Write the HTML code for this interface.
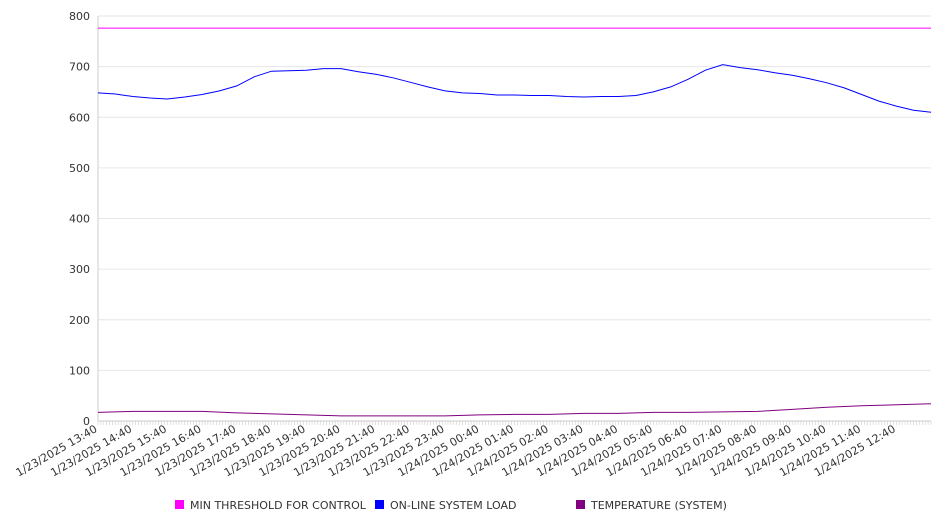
<!DOCTYPE html>
<html><head><meta charset="utf-8"><style>
html,body{margin:0;padding:0;background:#fff;width:946px;height:526px;overflow:hidden;font-family:"DejaVu Sans","Liberation Sans",sans-serif}
</style></head><body>
<svg id="chart" width="946" height="526" xmlns="http://www.w3.org/2000/svg" style="font-family:'DejaVu Sans','Liberation Sans',sans-serif">
<g id="grid"></g>
<g id="yaxis"></g>
<g id="xaxis"></g>
<g id="series"></g>
<g id="legend"></g>
</svg>
<script>
const xLabels=["1/23/2025 13:40","1/23/2025 14:40","1/23/2025 15:40","1/23/2025 16:40","1/23/2025 17:40","1/23/2025 18:40","1/23/2025 19:40","1/23/2025 20:40","1/23/2025 21:40","1/23/2025 22:40","1/23/2025 23:40","1/24/2025 00:40","1/24/2025 01:40","1/24/2025 02:40","1/24/2025 03:40","1/24/2025 04:40","1/24/2025 05:40","1/24/2025 06:40","1/24/2025 07:40","1/24/2025 08:40","1/24/2025 09:40","1/24/2025 10:40","1/24/2025 11:40","1/24/2025 12:40"];
const yTicks=[0,100,200,300,400,500,600,700,800];
// half-hourly samples (hours from start)
const loadValues=[648,646,641,638,636,640,645,652,662,680,691,692,693,696,696,690,685,678,669,660,652,648,647,644,644,643,643,641,640,641,641,643,650,660,675,693,704,698,694,688,683,676,668,658,645,632,622,614,610];
// hourly samples
const tempValues=[17,19,19,19,16,14,12,10,10,10,10,12,13,13,15,15,17,17,18,19,23,27,30,32,34];
const thresholdValue=776;
const seriesNames=["MIN THRESHOLD FOR CONTROL","ON-LINE SYSTEM LOAD","TEMPERATURE (SYSTEM)"];
const seriesColors=["#ff00ff","#0000ff","#800080"];

const NS="http://www.w3.org/2000/svg";
const L=98,R=931,T=16,B=421,HOURS=24;
const xs=h=>L+(R-L)*h/HOURS;
const ys=v=>B-(B-T)*v/800;
function mk(tag,attrs,parent){const e=document.createElementNS(NS,tag);for(const k in attrs)e.setAttribute(k,attrs[k]);parent.appendChild(e);return e;}
const grid=document.getElementById('grid'),yax=document.getElementById('yaxis'),xax=document.getElementById('xaxis'),ser=document.getElementById('series'),leg=document.getElementById('legend');
yTicks.forEach(v=>{
  const g=mk('line',{x1:L,x2:R,y1:ys(v),y2:ys(v),stroke:'#e6e6e6','stroke-width':1},grid);
  
  
  const t=mk('text',{x:90,y:ys(v)+4,'text-anchor':'end','font-size':11,fill:'#333'},yax);
  t.textContent=v;
  
  
});
const ya=mk('line',{x1:L,x2:L,y1:T,y2:B,stroke:'#ccc'},yax);


const xa=mk('line',{x1:L,x2:R,y1:B,y2:B,stroke:'#ccc'},xax);


for(let i=0;i<=HOURS*12;i++){
  const tk=mk('line',{x1:xs(i/12),x2:xs(i/12),y1:B,y2:B+4,stroke:'#ccc','stroke-width':0.6},xax);
  
  
}
xLabels.forEach((s,i)=>{
  const x=xs(i);
  const t=mk('text',{x:x,y:B+10,'text-anchor':'end','font-size':11,fill:'#333',transform:`rotate(-30 ${x} ${B+10})`},xax);
  t.textContent=s;
  
  
});
function line(vals,step,color,name){
  const d=vals.map((v,i)=>(i?'L':'M')+xs(i*step).toFixed(1)+','+ys(v).toFixed(1)).join('');
  const p=mk('path',{d:d,fill:'none',stroke:color,'stroke-width':1},ser);
  
  
}
line([thresholdValue,thresholdValue],HOURS,seriesColors[0],'threshold-line');
line(loadValues,0.5,seriesColors[1],'load-line');
line(tempValues,1,seriesColors[2],'temperature-line');
const lx=[175,375,576];
seriesNames.forEach((n,i)=>{
  const r=mk('rect',{x:lx[i],y:500,width:9,height:9,fill:seriesColors[i]},leg);
  
  
  const t=mk('text',{x:lx[i]+15,y:509,'font-size':11,fill:'#333'},leg);
  t.textContent=n;
  
  
});
</script>
</body></html>
